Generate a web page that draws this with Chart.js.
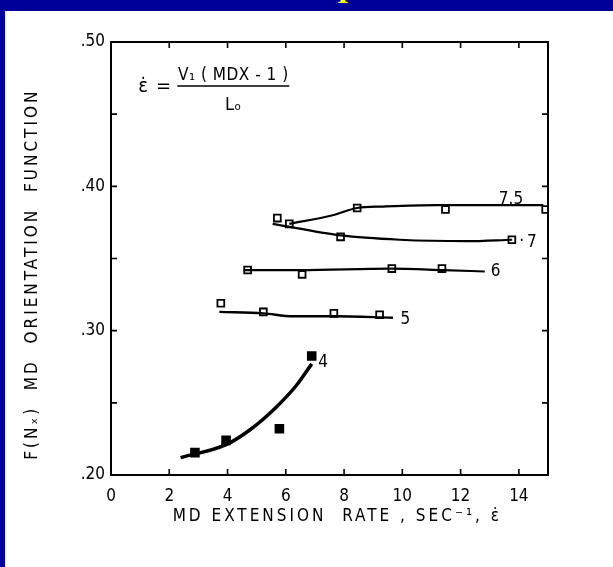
<!DOCTYPE html>
<html>
<head>
<meta charset="utf-8">
<script src="https://cdn.jsdelivr.net/npm/chart.js@4/dist/chart.umd.min.js"></script>
<style>
  html, body { margin: 0; padding: 0; }
  body { width: 613px; height: 567px; background: #000099; position: relative; overflow: hidden; }
  #panel { position: absolute; left: 5px; top: 11px; width: 608px; height: 556px; background: #fff; }
  #cut { position: absolute; left: 337px; top: -22px; color: #ffff00; font: bold 30px "Liberation Serif", serif; line-height: 30px; }
</style>
</head>
<body>
<div id="cut">I</div>
<div id="panel"><canvas id="chart" width="608" height="556"></canvas></div>
<script>
// MDX 4 (filled squares)
let rate4 = [2.88, 3.95, 5.78, 6.89];
let orient4 = [0.2155, 0.224, 0.232, 0.2825];
let curveRate4 = [2.39, 3.95, 4.75, 5.67, 6.36, 6.89];
let curveOrient4 = [0.212, 0.221, 0.231, 0.247, 0.262, 0.277];

// MDX 5
let rate5 = [3.77, 5.23, 7.65, 9.22];
let orient5 = [0.319, 0.313, 0.312, 0.311];
let curveRate5 = [3.72, 5.23, 6.24, 7.65, 9.68];
let curveOrient5 = [0.313, 0.312, 0.310, 0.310, 0.309];

// MDX 6
let rate6 = [4.69, 6.56, 9.64, 11.36];
let orient6 = [0.342, 0.339, 0.343, 0.343];
let curveRate6 = [4.55, 6.5, 9.6, 11.4, 12.83];
let curveOrient6 = [0.342, 0.342, 0.343, 0.342, 0.341];

// MDX 7
let rate7 = [5.71, 7.88, 13.76];
let orient7 = [0.378, 0.365, 0.363];
let curveRate7 = [5.55, 7.88, 9.91, 12.2, 13.77];
let curveOrient7 = [0.374, 0.366, 0.363, 0.362, 0.363];

// MDX 7.5
let rate75 = [6.12, 8.45, 11.48, 14.92];
let orient75 = [0.374, 0.385, 0.384, 0.384];
let curveRate75 = [6.12, 7.61, 8.45, 9.33, 11.17, 12.77, 14.84];
let curveOrient75 = [0.374, 0.380, 0.385, 0.386, 0.387, 0.387, 0.387];

let seriesNames = ["4", "5", "6", "7", "7.5"];

let xTicks = [0, 2, 4, 6, 8, 10, 12, 14];
let yTicks = [0.20, 0.30, 0.40, 0.50];

const FONT = "'DejaVu Sans Condensed', 'DejaVu Sans', sans-serif";

function pts(xs, ys) {
    return xs.map((v, i) => ({ x: v, y: ys[i] }));
}

function curve(xs, ys, w) {
    return {
        data: pts(xs, ys), showLine: true, pointRadius: 0,
        borderColor: "#000", borderWidth: w, cubicInterpolationMode: "monotone"
    };
}

function marks(xs, ys, filled, r) {
    return {
        data: pts(xs, ys), showLine: false, pointStyle: "rect", pointRadius: r,
        pointBackgroundColor: filled ? "#000" : "#fff", pointBorderColor: "#000", pointBorderWidth: 1.8
    };
}

// frame, inward ticks, formula and curve labels
let extras = {
    id: "extras",
    afterDraw(chart) {
        let ctx = chart.ctx;
        let a = chart.chartArea;
        let x = chart.scales.x, y = chart.scales.y;
        ctx.save();
        ctx.strokeStyle = "#000";
        ctx.lineWidth = 2;
        ctx.strokeRect(a.left, a.top, a.right - a.left, a.bottom - a.top);

        ctx.lineWidth = 1.6;
        ctx.beginPath();
        for (let v = 2; v <= 14; v += 2) {
            let px = x.getPixelForValue(v);
            ctx.moveTo(px, a.bottom); ctx.lineTo(px, a.bottom - 6);
            ctx.moveTo(px, a.top); ctx.lineTo(px, a.top + 6);
        }
        for (let v = 0.25; v < 0.5; v += 0.05) {
            let py = y.getPixelForValue(v);
            ctx.moveTo(a.left, py); ctx.lineTo(a.left + 6, py);
            ctx.moveTo(a.right, py); ctx.lineTo(a.right - 6, py);
        }
        ctx.stroke();

        ctx.fillStyle = "#000";
        ctx.textAlign = "center";
        ctx.textBaseline = "middle";

        // curve labels
        ctx.font = "17px " + FONT;
        let labelPos = [[7.28, 0.278], [10.1, 0.308], [13.2, 0.341], [14.45, 0.361], [13.73, 0.391]];
        seriesNames.forEach((s, i) => {
            ctx.fillText(s, x.getPixelForValue(labelPos[i][0]), y.getPixelForValue(labelPos[i][1]));
        });
        ctx.fillText("·", x.getPixelForValue(14.1), y.getPixelForValue(0.362));

        // formula
        let fx = x.getPixelForValue(4.2);
        let fy = y.getPixelForValue(0.4695);
        ctx.font = "20px " + FONT;
        ctx.fillText("ε̇", x.getPixelForValue(1.1), fy + 1);
        ctx.fillText("=", x.getPixelForValue(1.8), fy + 1);
        ctx.font = "17px " + FONT;
        ctx.letterSpacing = "0.5px";
        ctx.fillText("V₁ ( MDX - 1 )", fx, fy - 10);
        ctx.font = "18px " + FONT;
        ctx.fillText("Lₒ", fx, fy + 19);
        ctx.letterSpacing = "0px";
        ctx.lineWidth = 1.5;
        ctx.beginPath();
        ctx.moveTo(fx - 56, fy); ctx.lineTo(fx + 56, fy);
        ctx.stroke();
        ctx.restore();
    }
};

// wider letter spacing for the axis titles only
let spacedTitles = {
    id: "spacedTitles",
    afterLayout(chart) {
        Object.values(chart.scales).forEach(s => {
            if (s._spaced) return;
            let orig = s.drawTitle.bind(s);
            s.drawTitle = function () {
                chart.ctx.letterSpacing = "3px";
                orig();
                chart.ctx.letterSpacing = "0px";
            };
            s._spaced = true;
        });
    }
};

let chart = new Chart(document.getElementById("chart").getContext("2d"), {
    type: "scatter",
    data: {
        datasets: [
            curve(curveRate4, curveOrient4, 3.5),
            marks(rate4, orient4, true, 5.5),
            curve(curveRate5, curveOrient5, 2.4),
            marks(rate5, orient5, false, 4.8),
            curve(curveRate6, curveOrient6, 2.2),
            marks(rate6, orient6, false, 4.8),
            curve(curveRate7, curveOrient7, 2.2),
            marks(rate7, orient7, false, 4.8),
            curve(curveRate75, curveOrient75, 2.2),
            marks(rate75, orient75, false, 4.8)
        ]
    },
    options: {
        responsive: false,
        animation: false,
        layout: { padding: { left: 0, top: 31, right: 65, bottom: 32 } },
        plugins: { legend: { display: false }, tooltip: { enabled: false } },
        scales: {
            x: {
                type: "linear", min: 0, max: 15,
                grid: { display: false, drawTicks: false }, border: { display: false },
                afterFit: s => { s.height = 60; },
                afterBuildTicks: s => { s.ticks = xTicks.map(v => ({ value: v })); },
                ticks: { color: "#000", padding: 11, font: { family: FONT, size: 17 } },
                title: {
                    display: true, color: "#000", text: "  MD EXTENSION  RATE , SEC⁻¹, ε̇",
                    font: { family: FONT, size: 17 }, padding: { top: 0, bottom: 8 }
                }
            },
            y: {
                type: "linear", min: 0.2, max: 0.5,
                grid: { display: false, drawTicks: false }, border: { display: false },
                afterFit: s => { s.width = 106; },
                afterBuildTicks: s => { s.ticks = yTicks.map(v => ({ value: v })); },
                ticks: {
                    color: "#000", padding: 6, font: { family: FONT, size: 17 },
                    callback: v => v.toFixed(2).replace(/^0/, "")
                },
                title: {
                    display: true, color: "#000", text: "F(Nₓ)  MD  ORIENTATION  FUNCTION    ",
                    font: { family: FONT, size: 17 }, padding: { top: 17, bottom: 0 }
                }
            }
        }
    },
    plugins: [extras, spacedTitles]
});
</script>
</body>
</html>
